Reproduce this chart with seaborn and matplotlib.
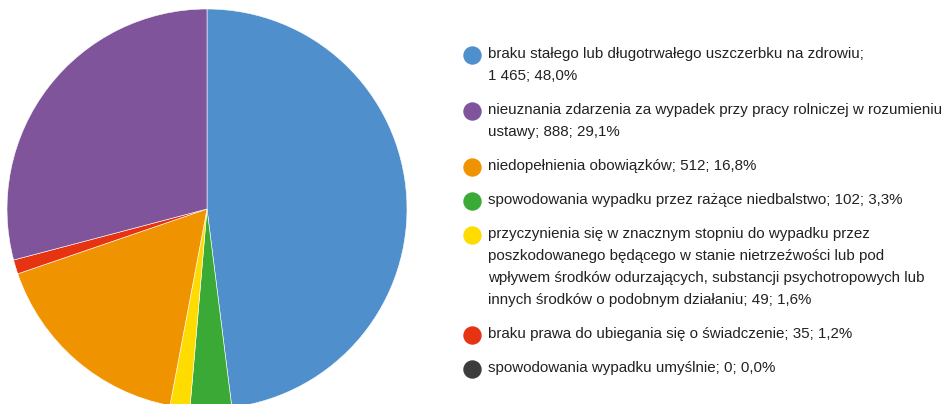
import matplotlib
matplotlib.use("Agg")
import matplotlib.pyplot as plt
import seaborn as sns

# pie slices, clockwise from 12 o'clock
pie_names = ["brak uszczerbku", "rażące niedbalstwo", "nietrzeźwość",
             "niedopełnienie obowiązków", "brak prawa", "nieuznanie zdarzenia"]
pie_counts = [1465, 102, 49, 512, 35, 888]
pie_colors = ["#4F8FCC", "#3BA935", "#FFDC00", "#F09300", "#E63312", "#7F549B"]

# legend entries (text already wrapped as in the source)
legend_labels = [
    "braku stałego lub długotrwałego uszczerbku na zdrowiu;\n1 465; 48,0%",
    "nieuznania zdarzenia za wypadek przy pracy rolniczej w rozumieniu\nustawy; 888; 29,1%",
    "niedopełnienia obowiązków; 512; 16,8%",
    "spowodowania wypadku przez rażące niedbalstwo; 102; 3,3%",
    "przyczynienia się w znacznym stopniu do wypadku przez\n"
    "poszkodowanego będącego w stanie nietrzeźwości lub pod\n"
    "wpływem środków odurzających, substancji psychotropowych lub\n"
    "innych środków o podobnym działaniu; 49; 1,6%",
    "braku prawa do ubiegania się o świadczenie; 35; 1,2%",
    "spowodowania wypadku umyślnie; 0; 0,0%",
]
legend_colors = ["#4F8FCC", "#7F549B", "#F09300", "#3BA935", "#FFDC00", "#E63312", "#3C3C3C"]

sns.set_theme(style="white")
plt.rcParams['font.family'] = ['Liberation Sans', 'DejaVu Sans']

W, H = 953, 404
fig = plt.figure(figsize=(W / 100, H / 100), dpi=100)

# pie: centre ~ (207, 209) px, radius ~200 px
ax = fig.add_axes([7 / W, (H - 209 - 200) / H, 400 / W, 400 / H])
ax.pie(pie_counts, colors=pie_colors, startangle=90, counterclock=False,
       wedgeprops=dict(edgecolor="white", linewidth=0.4))
ax.set_xlim(-1, 1)
ax.set_ylim(-1, 1)
ax.set_aspect("equal")
ax.axis("off")

# legend drawn in pixel coordinates
lax = fig.add_axes([0, 0, 1, 1])
lax.set_xlim(0, W)
lax.set_ylim(H, 0)
lax.axis("off")

line_h = 22
y = 55
for label, color in zip(legend_labels, legend_colors):
    lax.scatter([472], [y], s=150, color=color, zorder=3)
    lax.text(488, y - 8, label, fontsize=10.9, color="#222222", va="top", ha="left",
             linespacing=1.72)
    y += label.count("\n") * line_h + 34

fig.savefig("out.png", dpi=100)
